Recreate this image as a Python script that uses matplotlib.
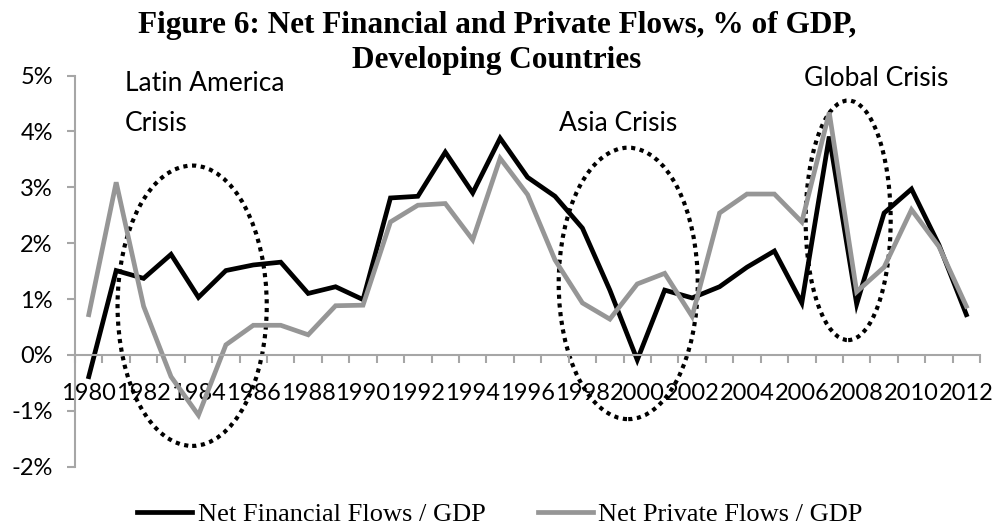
import numpy as np
import matplotlib.pyplot as plt
from matplotlib.patches import Ellipse
from matplotlib.ticker import FuncFormatter

years = list(range(1980, 2013))

net_financial = [-0.39, 1.51, 1.37, 1.80, 1.03, 1.51, 1.61, 1.66, 1.10, 1.22, 0.99,
                 2.81, 2.84, 3.63, 2.90, 3.88, 3.18, 2.84, 2.27, 1.16, -0.09,
                 1.16, 1.02, 1.22, 1.57, 1.86, 0.93, 3.91, 0.91, 2.54, 2.97,
                 1.97, 0.72]
net_private = [0.72, 3.09, 0.87, -0.39, -1.08, 0.18, 0.53, 0.53, 0.36, 0.88, 0.89,
               2.38, 2.68, 2.71, 2.06, 3.52, 2.87, 1.70, 0.93, 0.64, 1.27,
               1.46, 0.69, 2.54, 2.88, 2.88, 2.38, 4.34, 1.13, 1.57, 2.60,
               1.94, 0.87]

# crisis circles: (centre index, centre %, width, height)
circles = [(3.77, 0.88, 5.44, 5.02),
           (19.67, 1.28, 5.07, 4.86),
           (27.69, 2.41, 3.10, 4.29)]
# crisis labels: (text, x index, baseline %)
labels = [("Latin America", 1.32, 4.72),
          ("Crisis", 1.32, 4.00),
          ("Asia Crisis", 17.14, 4.00),
          ("Global Crisis", 26.08, 4.81)]

sans = ['Lato', 'DejaVu Sans']
serif = 'Liberation Serif'
grey_line = '#969696'
axis_grey = '#a6a6a6'

fig = plt.figure(figsize=(9.94, 5.29), dpi=100)
ax = fig.add_axes([0.0755, 0.118, 0.9105, 0.739])

x = np.arange(len(years))
ax.plot(x, net_financial, color='black', lw=3.4, label='Net Financial Flows / GDP',
        solid_joinstyle='miter')
ax.plot(x, net_private, color=grey_line, lw=3.4, label='Net Private Flows / GDP',
        solid_joinstyle='miter')

for cx, cy, w, h in circles:
    ax.add_patch(Ellipse((cx, cy), w, h, fill=False, edgecolor='black',
                         lw=3, linestyle=(0, (1, 1.1))))

ax.set_xlim(-0.5, len(years) - 0.5)
ax.set_ylim(-2, 5)

# axes styling
for s in ['top', 'right']:
    ax.spines[s].set_visible(False)
ax.spines['bottom'].set_position(('data', 0))
ax.spines['left'].set_color(axis_grey)
ax.spines['bottom'].set_color(axis_grey)
ax.spines['left'].set_linewidth(1.5)
ax.spines['bottom'].set_linewidth(1.5)

ax.set_yticks(range(-2, 6))
ax.yaxis.set_major_formatter(FuncFormatter(lambda v, p: '%d%%' % v))
ax.tick_params(axis='y', length=6, width=1.5, color=axis_grey, pad=10,
               labelsize=17)

ax.set_xticks(x[::2])
ax.set_xticklabels([str(y) for y in years[::2]])
ax.set_xticks(np.arange(-0.5, len(years)), minor=True)
ax.tick_params(axis='x', which='major', length=0, pad=20, labelsize=17)
ax.tick_params(axis='x', which='minor', length=6, width=1.5, color=axis_grey,
               direction='out')
for t in ax.get_xticklabels() + ax.get_yticklabels():
    t.set_family(sans)

for txt, tx, ty in labels:
    ax.text(tx, ty, txt, fontsize=19, family=sans, va='baseline')

fig.text(0.5, 0.9376, "Figure 6: Net Financial and Private Flows, % of GDP,",
         ha='center', va='baseline', fontsize=22.5, fontweight='bold', family=serif)
fig.text(0.5, 0.8715, "Developing Countries",
         ha='center', va='baseline', fontsize=22.5, fontweight='bold', family=serif)

fig.legend(loc='center', bbox_to_anchor=(0.503, 0.028), ncol=2, frameon=False,
           prop={'family': serif, 'size': 19}, handlelength=2.08,
           handletextpad=0.2, columnspacing=2.0)

fig.savefig('out.png', dpi=100)
